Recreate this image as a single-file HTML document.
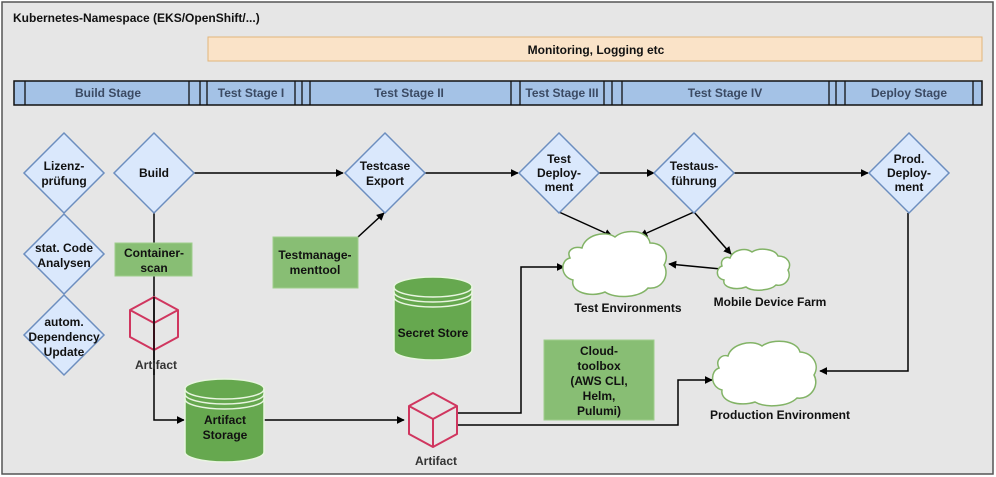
<!DOCTYPE html>
<html><head><meta charset="utf-8"><style>
html,body{margin:0;padding:0;background:#fff}
svg{display:block;font-family:"Liberation Sans",sans-serif;font-weight:bold}
</style></head><body>
<svg width="996" height="477" viewBox="0 0 996 477" xmlns="http://www.w3.org/2000/svg">
<defs>
<marker id="a" viewBox="0 0 10 10" refX="9" refY="5" markerWidth="8" markerHeight="8" orient="auto-start-reverse" markerUnits="userSpaceOnUse"><path d="M0,0 L10,5 L0,10 z" fill="#000"/></marker>
</defs>
<rect x="2" y="2" width="991" height="472" fill="#e6e6e6" stroke="#555" stroke-width="1.5"/>
<text x="13" y="22" font-size="12" fill="#111">Kubernetes-Namespace (EKS/OpenShift/...)</text>
<rect x="208" y="37" width="774" height="24" fill="#fae3c8" stroke="#e2b57a"/>
<text x="596" y="54" font-size="12" text-anchor="middle" fill="#111">Monitoring, Logging etc</text>
<g stroke="#111" stroke-width="1.5" fill="#a4c2e6">
<rect x="14" y="81" width="968" height="24"/>
</g>
<g stroke="#111" stroke-width="1.3">
<line x1="25" y1="81" x2="25" y2="105"/><line x1="189" y1="81" x2="189" y2="105"/><line x1="200" y1="81" x2="200" y2="105"/><line x1="207" y1="81" x2="207" y2="105"/>
<line x1="295" y1="81" x2="295" y2="105"/><line x1="302" y1="81" x2="302" y2="105"/><line x1="310" y1="81" x2="310" y2="105"/>
<line x1="511" y1="81" x2="511" y2="105"/><line x1="520" y1="81" x2="520" y2="105"/><line x1="604" y1="81" x2="604" y2="105"/><line x1="612" y1="81" x2="612" y2="105"/><line x1="622" y1="81" x2="622" y2="105"/>
<line x1="829" y1="81" x2="829" y2="105"/><line x1="836" y1="81" x2="836" y2="105"/><line x1="845" y1="81" x2="845" y2="105"/><line x1="973" y1="81" x2="973" y2="105"/>
</g>
<g font-size="12" fill="#3b4a63" text-anchor="middle">
<text x="108" y="97">Build Stage</text><text x="251" y="97">Test Stage I</text><text x="409" y="97">Test Stage II</text><text x="562" y="97">Test Stage III</text><text x="725" y="97">Test Stage IV</text><text x="909" y="97">Deploy Stage</text>
</g>
<!-- arrows -->
<g stroke="#000" stroke-width="1.5" fill="none" marker-end="url(#a)">
<line x1="194" y1="173" x2="343" y2="173"/>
<line x1="425" y1="173" x2="518" y2="173"/>
<line x1="599" y1="173" x2="654" y2="173"/>
<line x1="734" y1="173" x2="868" y2="173"/>
<polyline points="154,213 154,420 184,420"/>
<line x1="358" y1="237" x2="384" y2="213"/>
<line x1="264" y1="420" x2="404" y2="420"/>
<polyline points="458,413 521,413 521,267 564,267"/>
<polyline points="458,425 678,425 678,380 712,380"/>
<line x1="559" y1="212" x2="612" y2="236"/>
<line x1="694" y1="212" x2="640" y2="236"/>
<line x1="694" y1="212" x2="731" y2="254"/>
<line x1="721" y1="269" x2="669" y2="264"/>
<polyline points="908,213 908,371 820,371"/>
</g>
<!-- diamonds -->
<g fill="#dae8fc" stroke="#6c8ebf" stroke-width="1.5">
<path d="M64,133 L104,173 L64,213 L24,173 z"/>
<path d="M64,214 L104,254 L64,294 L24,254 z"/>
<path d="M64,295 L104,335 L64,375 L24,335 z"/>
<path d="M154,133 L194,173 L154,213 L114,173 z"/>
<path d="M385,133 L425,173 L385,213 L345,173 z"/>
<path d="M559,133 L599,173 L559,213 L519,173 z"/>
<path d="M694,133 L734,173 L694,213 L654,173 z"/>
<path d="M909,133 L949,173 L909,213 L869,173 z"/>
</g>
<g font-size="12" fill="#111" text-anchor="middle">
<text x="64" y="170">Lizenz-</text><text x="64" y="185">prüfung</text>
<text x="64" y="252">stat. Code</text><text x="64" y="267">Analysen</text>
<text x="64" y="326">autom.</text><text x="64" y="341">Dependency</text><text x="64" y="356">Update</text>
<text x="154" y="177">Build</text>
<text x="385" y="170">Testcase</text><text x="385" y="185">Export</text>
<text x="559" y="163">Test</text><text x="559" y="177">Deploy-</text><text x="559" y="191">ment</text>
<text x="694" y="170">Testaus-</text><text x="694" y="185">führung</text>
<text x="909" y="163">Prod.</text><text x="909" y="177">Deploy-</text><text x="909" y="191">ment</text>
</g>
<!-- green boxes -->
<g fill="#88be74" stroke="#9fcf8c">
<rect x="115" y="243" width="77" height="33"/>
<rect x="273" y="237" width="85" height="51"/>
<rect x="544" y="340" width="110" height="80"/>
</g>
<g font-size="12" fill="#111" text-anchor="middle">
<text x="154" y="257">Container-</text><text x="154" y="272">scan</text>
<text x="315" y="259">Testmanage-</text><text x="315" y="274">menttool</text>
<text x="599" y="355">Cloud-</text><text x="599" y="370">toolbox</text><text x="599" y="385">(AWS CLI,</text><text x="599" y="400">Helm,</text><text x="599" y="415">Pulumi)</text>
</g>
<!-- cylinders -->
<g fill="#66a84f" stroke="#e8f5e0" stroke-width="1.5">
<path d="M394,287 a39,10 0 0 1 78,0 v63 a39,10 0 0 1 -78,0 z"/>
<path d="M394,287 a39,10 0 0 0 78,0 M394,292 a39,10 0 0 0 78,0 M394,297 a39,10 0 0 0 78,0" fill="none"/>
<path d="M185,389 a39.5,10 0 0 1 79,0 v63 a39.5,10 0 0 1 -79,0 z"/>
<path d="M185,389 a39.5,10 0 0 0 79,0 M185,394 a39.5,10 0 0 0 79,0 M185,399 a39.5,10 0 0 0 79,0" fill="none"/>
</g>
<g font-size="12" fill="#111" text-anchor="middle">
<text x="433" y="337">Secret Store</text>
<text x="225" y="424">Artifact</text><text x="225" y="439">Storage</text>
</g>
<!-- cubes -->
<g fill="none" stroke="#d0365f" stroke-width="2" stroke-linejoin="round">
<path d="M154,297 L178,310 L178,337 L154,350 L130,337 L130,310 z M130,310 L154,323 L178,310 M154,323 L154,350"/>
<path d="M433,393 L457,406 L457,434 L433,447 L409,434 L409,406 z M409,406 L433,419 L457,406 M433,419 L433,447"/>
</g>
<line x1="154" y1="297" x2="154" y2="375" stroke="#000" stroke-width="1.5"/>
<g font-size="12" fill="#333" text-anchor="middle">
<text x="156" y="369">Artifact</text><text x="436" y="465">Artifact</text>
</g>
<!-- clouds -->
<g fill="#fff" stroke="#82b366" stroke-width="1.5">
<path d="M582,248 C585,235 605,230 615,237 C625,228 648,230 650,243 C664,243 670,255 664,265 C670,275 662,290 648,288 C640,298 615,299 605,292 C590,298 570,292 573,280 C560,277 560,260 570,258 C566,250 574,246 582,248 z"/>
<path d="M730,258 C733,250 745,247 752,252 C760,247 775,249 778,256 C788,256 792,264 788,270 C792,278 785,287 776,285 C770,291 752,292 746,287 C735,291 722,287 724,280 C715,278 716,268 722,266 C720,260 725,256 730,258 z"/>
<path d="M728,356 C731,344 752,339 762,346 C773,338 797,340 800,352 C813,353 820,365 814,375 C820,386 810,400 797,398 C788,407 765,408 755,402 C740,407 720,402 722,390 C710,387 710,371 719,368 C715,360 722,354 728,356 z"/>
</g>
<g font-size="12" fill="#111" text-anchor="middle">
<text x="628" y="312">Test Environments</text>
<text x="770" y="306">Mobile Device Farm</text>
<text x="780" y="419">Production Environment</text>
</g>
</svg>
</body></html>
